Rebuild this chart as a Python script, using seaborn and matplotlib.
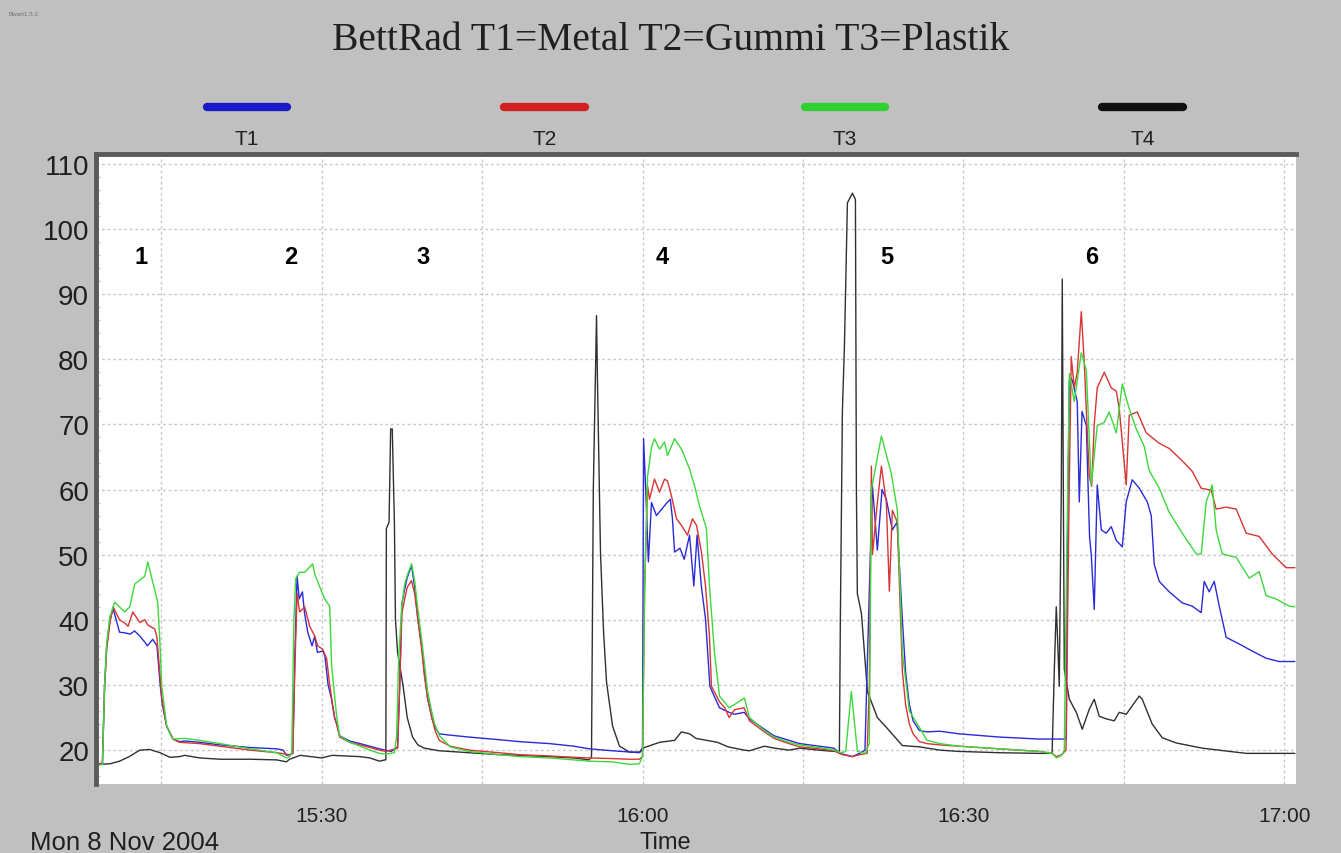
import numpy as np
import pandas as pd
import matplotlib
matplotlib.use("Agg")
import matplotlib.pyplot as plt
from matplotlib.lines import Line2D
from matplotlib.ticker import MultipleLocator, FixedLocator
import seaborn as sns

# ---------------- data (time = minutes after 15:00, value = temperature) ----------------
t1_time = [8.9, 9.5, 9.7, 9.9, 10.2, 10.5, 11.1, 11.6, 12.1, 12.5, 13.0, 13.5, 13.7, 14.2, 14.6,
           14.9, 15.1, 15.5, 16.1, 16.7, 17.2, 18.6, 20.5, 23.3, 25.8, 26.4, 26.7, 27.0,
           27.3, 27.5, 27.7, 27.9, 28.2, 28.4, 28.7, 29.1, 29.35, 29.6, 30.1, 30.3, 30.6, 30.9,
           31.2, 31.4, 31.7, 32.6, 33.6, 34.5, 35.4, 35.9, 36.5, 37.1,
           37.3, 37.5, 37.8, 38.0, 38.4, 38.7, 39.0, 39.35, 39.6, 39.9, 40.3, 40.6, 41.0, 42.0,
           43.8, 46.6, 48.5, 51.3, 53.6, 55.0, 57.2, 58.8, 59.7,
           60.0, 60.1, 60.3, 60.55, 60.84, 61.3, 61.8, 62.3, 62.6, 62.8, 63.0, 63.5, 63.9, 64.4,
           64.8, 65.1, 65.5, 65.9, 66.3, 66.7, 67.2, 68.1, 68.6, 69.5, 70.0, 71.4, 72.3, 73.7,
           74.7, 76.5, 77.9, 78.4, 79.2, 79.6, 80.3, 80.8,
           81.2, 81.5, 81.96, 82.4, 82.8, 83.36, 83.8, 84.3, 84.6, 84.95, 85.3, 85.9, 86.6,
           87.8, 89.6, 93.4, 97.1, 98.3, 99.4, 99.63,
           99.72, 99.91, 100.1, 100.2, 100.65, 100.84, 101.1, 101.5, 101.8, 101.96, 102.24,
           102.52, 102.9, 103.36, 103.83, 104.3, 104.86, 105.23, 105.79, 106.45, 107.2, 107.57,
           107.85, 108.32, 109.25, 110.47, 111.4, 112.24, 112.52, 112.99, 113.46, 113.93,
           114.58, 115.79, 117.01, 118.32, 119.53, 121.0]
t1_value = [17.8, 18.0, 29.8, 36.0, 40.0, 41.7, 38.1, 38.0, 37.8, 38.3, 37.5, 36.5, 36.0, 37.0, 36.0,
            30.0, 27.0, 23.7, 21.7, 21.3, 21.4, 21.2, 20.8, 20.4, 20.2, 20.0, 19.2, 19.3,
            19.5, 35.0, 46.7, 43.2, 44.3, 41.0, 38.1, 36.0, 37.5, 35.0, 35.2, 34.5, 30.0, 28.0,
            25.0, 24.0, 22.2, 21.4, 21.0, 20.6, 20.2, 20.0, 19.8, 20.5,
            30.0, 42.5, 45.0, 46.5, 48.3, 45.0, 40.0, 36.0, 32.0, 28.0, 25.0, 23.5, 22.5, 22.3,
            22.0, 21.6, 21.3, 21.0, 20.6, 20.2, 19.9, 19.7, 19.6,
            20.0, 67.8, 60.0, 48.9, 58.0, 56.0, 57.0, 58.0, 58.5, 55.5, 50.4, 51.0, 49.3, 53.0,
            45.2, 53.0, 45.2, 40.0, 29.8, 28.3, 26.5, 25.8, 25.5, 25.8, 24.8, 23.2, 22.2, 21.5,
            21.0, 20.6, 20.3, 19.5, 19.2, 19.0, 19.5, 20.0,
            44.0, 60.6, 50.7, 60.0, 58.5, 53.8, 55.0, 40.0, 32.0, 27.0, 24.5, 23.0, 22.8,
            22.9, 22.5, 22.0, 21.7, 21.7, 21.7, 21.7,
            50.0, 76.7, 77.0, 76.7, 73.5, 58.1, 72.0, 69.8, 52.8, 50.0, 41.6,
            60.7, 53.8, 53.3, 54.3, 52.2, 51.2, 58.1, 61.5, 60.2, 58.1, 56.0,
            48.5, 45.9, 44.3, 42.6, 42.1, 41.1, 45.9, 44.3, 45.9, 42.1,
            37.3, 36.3, 35.2, 34.1, 33.6, 33.6]

t2_time = [8.9, 9.5, 9.7, 9.9, 10.2, 10.5, 11.1, 11.6, 11.9, 12.34, 12.99, 13.46, 13.74, 14.39, 14.58,
           14.86, 15.05, 15.5, 16.1, 16.7, 18.6, 20.5, 23.3, 25.8, 27.0,
           27.3, 27.5, 27.7, 27.94, 28.41, 28.88, 29.35, 29.63, 30.09, 30.47, 30.75, 30.93, 31.21,
           31.4, 31.68, 32.6, 33.6, 34.5, 35.4, 36.0, 37.1,
           37.3, 37.5, 37.8, 38.0, 38.4, 38.7, 39.0, 39.35, 39.6, 39.9, 40.3, 40.6, 41.0, 42.0,
           43.8, 46.6, 48.5, 51.3, 53.6, 55.0, 57.2, 58.8, 59.7,
           60.0, 60.2, 60.47, 60.65, 61.12, 61.59, 62.06, 62.34, 62.71, 63.18, 63.64, 64.21,
           64.67, 65.05, 65.51, 65.89, 66.26, 66.45, 67.2, 67.7, 68.1, 68.6, 69.5, 70.0, 71.4,
           72.3, 73.7, 74.7, 76.5, 77.9, 78.7, 79.6, 80.3, 81.0,
           81.21, 81.4, 81.5, 81.96, 82.34, 82.8, 83.08, 83.36, 83.83, 84.3, 84.6, 84.95, 85.3,
           85.9, 86.6, 87.8, 89.6, 93.4, 97.1, 98.3, 98.7, 99.2, 99.6,
           99.9, 100.09, 100.37, 100.65, 101.03, 101.31, 101.59, 101.78, 102.0, 102.24, 102.52,
           103.18, 103.83, 104.3, 104.58, 105.23, 105.51, 106.26, 107.1, 108.32, 109.25,
           110.47, 111.4, 112.24, 113.18, 113.64, 114.58, 115.51, 116.45, 117.66, 118.88,
           120.19, 121.0]
t2_value = [17.8, 18.0, 29.5, 35.5, 39.5, 42.0, 40.0, 39.5, 39.0, 41.2, 39.6, 40.0, 39.2, 38.6, 37.5,
            32.0, 28.0, 23.7, 21.7, 21.2, 21.0, 20.6, 20.0, 19.6, 19.3,
            19.5, 33.0, 44.0, 41.2, 42.0, 39.0, 37.5, 36.0, 35.5, 34.0, 30.0, 28.0, 25.0,
            24.0, 22.0, 21.2, 20.8, 20.4, 20.0, 19.8, 20.3,
            30.0, 41.0, 43.5, 45.0, 46.0, 44.0, 40.0, 35.5, 31.5, 28.0, 25.0, 23.0, 21.5, 20.6,
            20.0, 19.6, 19.3, 19.1, 18.9, 18.8, 18.7, 18.6, 18.6,
            19.0, 45.0, 60.6, 58.5, 61.6, 59.6, 61.6, 61.3, 59.0, 55.5, 54.5, 53.0,
            55.5, 54.5, 50.4, 45.2, 37.5, 29.8, 27.4, 26.5, 25.0, 26.2, 26.5, 24.5, 22.8,
            21.8, 21.0, 20.5, 20.2, 19.9, 19.3, 19.0, 19.3, 19.5,
            30.0, 63.6, 50.0, 58.0, 63.6, 58.0, 44.4, 56.8, 55.0, 32.0, 27.0, 24.0, 22.5,
            21.3, 21.0, 20.8, 20.6, 20.2, 19.8, 19.5, 19.0, 19.3, 20.0,
            60.0, 80.4, 75.6, 78.0, 87.3, 79.4, 68.7, 62.0, 60.5, 70.0, 75.6,
            78.0, 75.6, 75.1, 72.4, 60.7, 71.4, 71.9, 68.7, 67.1, 66.3,
            64.4, 62.8, 60.2, 59.9, 57.0, 57.3, 57.0, 53.3, 52.8, 50.1,
            48.0, 48.0]

t3_time = [8.9, 9.5, 9.7, 9.9, 10.2, 10.65, 10.84, 11.59, 12.06, 12.52, 13.46, 13.74, 14.67, 14.86,
           15.05, 15.51, 16.07, 17.2, 18.6, 20.5, 23.3, 25.8, 26.7, 27.0,
           27.2, 27.4, 27.57, 27.94, 28.41, 29.16, 29.35, 30.28, 30.75, 30.93, 31.4, 31.68, 32.6,
           33.6, 34.5, 35.4, 36.0, 36.8,
           37.0, 37.2, 37.48, 37.76, 38.04, 38.41, 38.69, 38.97, 39.35, 39.63, 39.91, 40.28,
           40.56, 41.03, 42.0, 43.8, 46.6, 48.5, 51.3, 53.6, 55.0, 57.2, 58.8, 59.7,
           60.0, 60.2, 60.47, 60.84, 61.12, 61.59, 62.06, 62.34, 62.99, 63.64, 64.39, 64.86,
           65.33, 65.98, 66.26, 66.73, 67.2, 68.1, 68.6, 69.53, 70.0, 71.4, 72.3, 73.7, 74.7,
           76.5, 77.9, 78.6, 79.0, 79.53, 80.09, 80.8,
           81.21, 81.4, 82.34, 83.27, 83.83, 84.3, 84.95, 85.89, 86.6, 87.8, 89.6, 93.4, 97.1,
           98.3, 98.7, 99.2, 99.44,
           99.63, 99.91, 100.37, 101.03, 101.5, 101.96, 102.52, 103.18, 103.64, 104.3, 104.86,
           105.51, 106.17, 106.92, 107.38, 108.32, 109.25, 110.47, 111.78, 112.24, 112.71,
           113.27, 113.64, 114.21, 115.51, 116.73, 117.66, 118.32, 119.25, 120.47, 121.0]
t3_value = [17.6, 17.8, 30.0, 36.5, 40.5, 42.7, 42.4, 41.2, 42.0, 45.5, 46.7, 48.9, 42.7, 37.0,
            29.8, 23.7, 21.7, 21.8, 21.5, 21.0, 20.2, 19.6, 18.8, 19.0,
            19.5, 40.0, 46.3, 47.3, 47.3, 48.6, 47.0, 43.2, 42.1, 32.9, 25.2, 22.2, 21.2,
            20.6, 20.0, 19.5, 19.4, 19.6,
            22.0, 34.0, 42.0, 45.5, 47.0, 48.6, 46.0, 42.0, 37.0, 33.0, 29.0, 26.0,
            24.0, 22.2, 20.5, 19.8, 19.3, 19.0, 18.8, 18.5, 18.3, 18.2, 17.8, 17.9,
            19.0, 45.0, 62.0, 66.5, 67.8, 66.2, 67.3, 65.2, 67.8, 66.2, 63.2, 60.6,
            57.5, 54.0, 45.2, 35.0, 28.3, 26.5, 27.0, 28.0, 25.0, 23.0, 22.0, 21.2, 20.8,
            20.4, 20.0, 19.6, 19.8, 29.0, 19.8, 19.5,
            21.0, 60.0, 68.2, 62.4, 56.8, 35.0, 26.0, 23.5, 21.5, 21.0, 20.6, 20.2, 19.8,
            19.5, 18.8, 19.2, 20.0,
            45.0, 77.8, 73.5, 81.0, 78.3, 60.7, 69.8, 70.3, 71.9, 68.7, 76.2,
            72.4, 69.3, 66.6, 62.9, 60.2, 56.5, 53.3, 50.1, 50.1, 58.1,
            60.7, 53.8, 50.1, 49.6, 46.4, 47.4, 43.7, 43.2, 42.1, 42.0]

t4_time = [8.9, 10.2, 11.1, 12.0, 13.0, 13.9, 14.9, 15.8, 16.7, 17.2, 18.6, 20.5, 23.3, 25.8, 26.7,
           27.0, 28.0, 29.0, 30.0, 31.0, 33.6, 34.5, 35.4, 35.9,
           36.0, 36.05, 36.3, 36.45, 36.6, 36.8, 36.9, 37.1, 37.6, 38.0, 38.5, 39.0, 39.6, 41.0,
           43.8, 46.6, 48.5, 51.3, 53.6, 55.0,
           55.23, 55.4, 55.7, 55.79, 56.07, 56.36, 56.64, 57.2, 57.85, 58.79, 59.72, 60.0, 61.6,
           63.0, 63.64, 64.4, 65.0, 66.0, 67.0, 68.0, 69.5, 70.0, 71.4, 72.34, 73.7, 74.7, 76.5,
           77.9, 78.41,
           78.5, 78.69, 78.88, 79.16, 79.63, 79.91, 80.0, 80.09, 80.47, 81.03, 81.96, 82.8, 84.3,
           85.9, 87.8, 89.6, 93.4, 97.1, 98.3,
           98.5, 98.69, 98.79, 98.97, 99.16, 99.25, 99.35, 99.44, 99.91, 100.56, 101.12, 101.78,
           102.24, 102.71, 103.36, 104.11, 104.58, 105.23, 105.79, 106.45, 106.73, 107.66,
           108.6, 109.91, 112.34, 116.45, 121.0]
t4_value = [17.8, 17.9, 18.3, 19.0, 20.0, 20.1, 19.6, 18.9, 19.0, 19.2, 18.8, 18.6, 18.6, 18.5, 18.2,
            18.6, 19.2, 19.0, 18.8, 19.2, 19.0, 18.8, 18.3, 18.5,
            18.5, 54.0, 55.0, 69.3, 69.3, 55.0, 40.0, 35.0, 30.0, 25.0, 22.0, 20.8, 20.3, 19.9,
            19.6, 19.3, 19.2, 19.0, 18.8, 18.5,
            19.0, 60.0, 86.7, 76.5, 50.4, 38.1, 30.4, 23.7, 20.6, 19.7, 19.7, 20.3, 21.2,
            21.5, 22.8, 22.5, 21.8, 21.5, 21.2, 20.5, 20.0, 19.9, 20.6, 20.3, 20.0, 20.3, 20.0,
            19.8, 19.8,
            40.0, 72.0, 82.0, 104.0, 105.5, 104.5, 60.0, 44.0, 41.0, 29.0, 25.0, 23.5, 20.7,
            20.5, 20.0, 19.8, 19.6, 19.5, 19.5,
            32.0, 42.0, 38.0, 29.8, 60.0, 92.3, 60.0, 32.4, 27.8, 25.8, 23.2, 26.3,
            27.8, 25.2, 24.8, 24.5, 25.8, 25.5, 26.8, 28.3, 27.8, 24.0,
            21.9, 21.1, 20.3, 19.5, 19.5]

series_names = ["T1", "T2", "T3", "T4"]
series_colors = ["#2a2ad8", "#d83434", "#3cd83c", "#303030"]
legend_colors = ["#1a1ac8", "#d02020", "#30d030", "#101010"]

x_tick_minutes = [15, 30, 45, 60, 75, 90, 105, 120]
x_tick_labels = ["", "15:30", "", "16:00", "", "16:30", "", "17:00"]
y_ticks = [20, 30, 40, 50, 60, 70, 80, 90, 100, 110]

event_labels = ["1", "2", "3", "4", "5", "6"]
event_label_minutes = [13.1, 27.1, 39.5, 61.8, 82.8, 102.0]
event_label_value = 95.7

title_text = "BettRad T1=Metal T2=Gummi T3=Plastik"
date_text = "Mon 8 Nov 2004"
x_axis_label = "Time"
corner_text = "Bwart1.5.3"

# ---------------- build long-format table ----------------
frames = []
for name, tt, vv in zip(series_names,
                        [t1_time, t2_time, t3_time, t4_time],
                        [t1_value, t2_value, t3_value, t4_value]):
    frames.append(pd.DataFrame({"minute": tt, "temp": vv, "sensor": name}))
df = pd.concat(frames, ignore_index=True)

# ---------------- style ----------------
sns.set_theme(style="white")
plt.rcParams["font.family"] = ["Liberation Sans", "DejaVu Sans"]

BG = "#c0c0c0"
fig = plt.figure(figsize=(13.41, 8.54), dpi=100, facecolor=BG)
ax = fig.add_axes([0.0716, 0.0808, 0.8948, 0.7377])
ax.set_facecolor("white")

# draw T4 first so the coloured ones lie on top like in the original
order = ["T4", "T1", "T2", "T3"]
pal = dict(zip(series_names, series_colors))
for name in order:
    sub = df[df["sensor"] == name]
    sns.lineplot(data=sub, x="minute", y="temp", color=pal[name], lw=1.0,
                 estimator=None, sort=False, ax=ax, legend=False)

ax.set_xlim(8.9, 121.1)
ax.set_ylim(14.8, 111.5)

ax.xaxis.set_major_locator(FixedLocator(x_tick_minutes))
ax.set_xticklabels(x_tick_labels)
ax.set_yticks(y_ticks)
ax.yaxis.set_minor_locator(MultipleLocator(2))
ax.tick_params(axis="x", which="major", length=5, direction="in", color="#a0a0a0",
               pad=16, labelsize=15, labelcolor="#202020")
ax.tick_params(axis="y", which="major", length=5, direction="in", color="#a0a0a0",
               pad=5, labelsize=20, labelcolor="#202020")
ax.tick_params(axis="y", which="minor", length=3, direction="in", color="#c8c8c8", left=True)

ax.grid(True, which="major", color="#c8c8c8", linestyle=(0, (2, 2)), linewidth=1.0)
ax.set_axisbelow(True)
ax.set_xlabel("")
ax.set_ylabel("")

for side in ["right", "bottom"]:
    ax.spines[side].set_visible(False)
for side in ["top", "left"]:
    ax.spines[side].set_color("#5a5a5a")
    ax.spines[side].set_linewidth(3.5)

# event numbers
for lab, m in zip(event_labels, event_label_minutes):
    ax.text(m, event_label_value, lab, ha="center", va="center",
            fontsize=17, fontweight="bold", color="black")

# title
fig.text(0.5, 0.953, title_text, ha="center", va="center", fontsize=28.5,
         family=["Liberation Serif", "DejaVu Serif"], color="#202020")
fig.text(0.006, 0.983, corner_text, ha="left", va="center", fontsize=4.5, color="#707070")

# custom legend: thick bar with label underneath
legend_centers = [0.184, 0.406, 0.630, 0.852]
half = 0.030
for name, col, cx in zip(series_names, legend_colors, legend_centers):
    fig.add_artist(Line2D([cx - half, cx + half], [0.8735, 0.8735], transform=fig.transFigure,
                          color=col, lw=6, solid_capstyle="round"))
    fig.text(cx, 0.837, name, ha="center", va="center", fontsize=15, color="#202020")

fig.text(0.496, 0.013, x_axis_label, ha="center", va="center", fontsize=17, color="#202020")
fig.text(0.022, 0.013, date_text, ha="left", va="center", fontsize=18.5, color="#202020")

fig.savefig("out.png", dpi=100, facecolor=BG)
